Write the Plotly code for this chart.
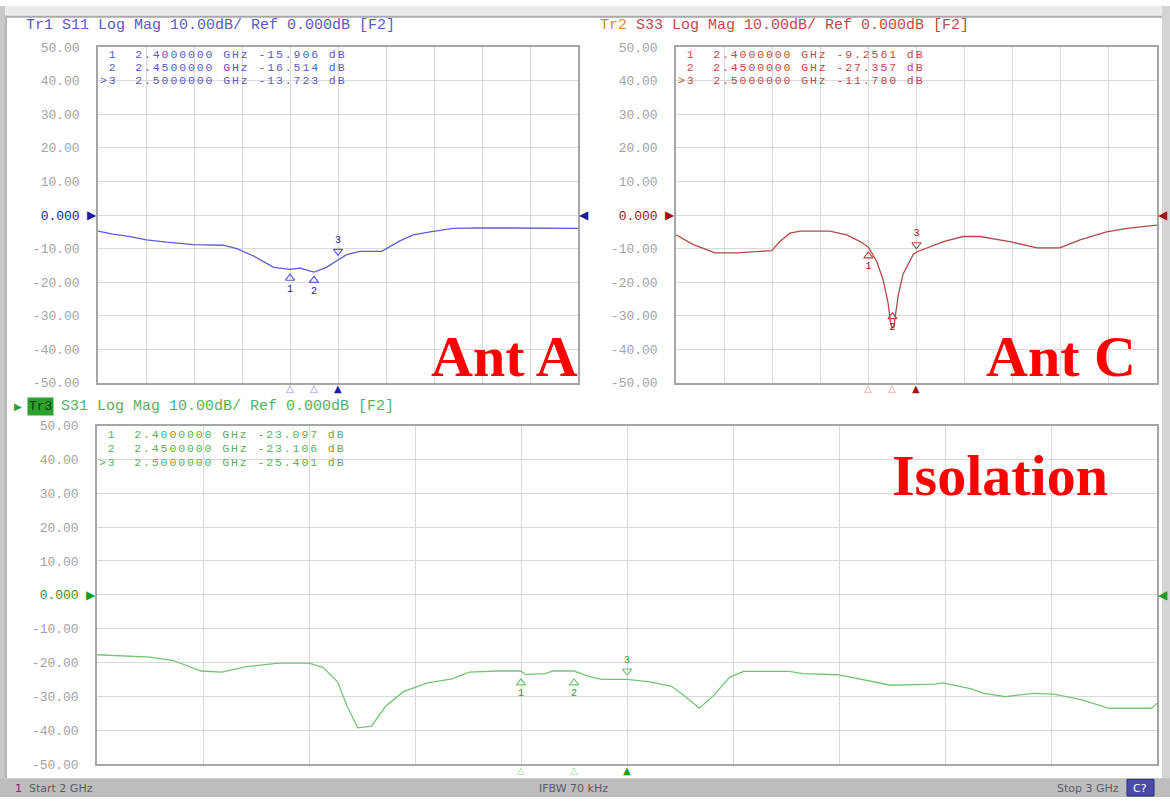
import plotly.graph_objects as go

W, H = 1170, 806

# ---------------- data ----------------
freq_s11 = [2.0, 2.031, 2.067, 2.101, 2.143, 2.199, 2.261, 2.289, 2.324, 2.366, 2.4,
            2.421, 2.45, 2.476, 2.5, 2.518, 2.546, 2.591, 2.629, 2.657, 2.692, 2.74, 2.796, 3.0]
db_s11 = [-4.8, -5.7, -6.4, -7.4, -8.1, -8.8, -9.0, -10.0, -12.2, -15.6, -16.2,
          -15.8, -17.0, -15.6, -13.4, -11.8, -10.8, -10.8, -7.7, -5.9, -5.0, -4.0, -3.8, -4.0]

freq_s33 = [2.0, 2.036, 2.081, 2.126, 2.199, 2.216, 2.237, 2.258, 2.32, 2.355, 2.383, 2.4,
            2.417, 2.431, 2.441, 2.446, 2.449, 2.453, 2.456, 2.462, 2.472, 2.493, 2.5, 2.521,
            2.556, 2.597, 2.632, 2.694, 2.75, 2.798, 2.84, 2.895, 2.937, 3.0]
db_s33 = [-5.9, -8.8, -11.3, -11.3, -10.6, -7.9, -5.4, -4.8, -4.8, -5.9, -7.9, -9.6,
          -13.7, -19.5, -26.3, -32.0, -33.5, -33.5, -30.0, -24.0, -17.6, -11.8, -11.0, -9.8,
          -7.9, -6.4, -6.4, -7.9, -9.8, -9.8, -7.4, -5.0, -4.0, -3.0]

freq_s31 = [2.0, 2.05, 2.072, 2.098, 2.118, 2.141, 2.171, 2.2, 2.213, 2.227, 2.236, 2.246,
            2.259, 2.272, 2.289, 2.312, 2.335, 2.351, 2.378, 2.4, 2.404, 2.423, 2.43, 2.45,
            2.463, 2.476, 2.5, 2.522, 2.542, 2.555, 2.568, 2.581, 2.597, 2.61, 2.653, 2.666,
            2.699, 2.719, 2.749, 2.791, 2.798, 2.824, 2.837, 2.857, 2.883, 2.903, 2.929,
            2.955, 2.995, 3.0]
db_s31 = [-17.7, -18.4, -19.4, -22.5, -22.8, -21.2, -20.2, -20.2, -21.4, -25.7, -33.0, -39.3,
          -38.8, -33.0, -28.6, -26.0, -24.8, -22.8, -22.5, -22.5, -23.5, -23.3, -22.5, -22.5,
          -24.0, -25.0, -25.0, -25.7, -27.0, -30.0, -33.5, -30.0, -24.3, -22.6, -22.6, -23.3,
          -23.6, -24.8, -26.7, -26.4, -26.0, -27.7, -29.1, -30.1, -29.1, -29.3, -31.0,
          -33.5, -33.5, -32.0]

marker_freq = [2.4, 2.45, 2.5]
s11_marker_db = [-15.906, -16.514, -13.723]
s33_marker_db = [-9.2561, -27.357, -11.780]
s31_marker_db = [-23.097, -23.106, -25.401]

ytick_vals = [-50, -40, -30, -20, -10, 0, 10, 20, 30, 40, 50]
ytick_labels = ["-50.00", "-40.00", "-30.00", "-20.00", "-10.00", "0.000",
                "10.00", "20.00", "30.00", "40.00", "50.00"]

# ---------------- style ----------------
MONO = "Liberation Mono"
GRID = "#d9d9d9"
FRAME = "#a6a6a6"
TICK = "#a3a3a3"


def px_x(p):
    return p / W


def px_y(p):
    return 1 - p / H


panels = [
    dict(name="S11", xa="x", ya="y", xd=[98, 578], yd=[42, 384], ro=[7, 13.5],
         freq=freq_s11, db=db_s11, mdb=s11_marker_db,
         line="#5d5dd5", dark="#1c1ca0", light="#9090e2", text="#5a5ac4",
         below=[True, True, False]),
    dict(name="S33", xa="x2", ya="y2", xd=[676, 1157], yd=[42, 384], ro=[7, 13.5],
         freq=freq_s33, db=db_s33, mdb=s33_marker_db,
         line="#b4484a", dark="#a01515", light="#e29494", text="#c04a4a",
         below=[True, True, False]),
    dict(name="S31", xa="x3", ya="y3", xd=[97, 1157], yd=[427.5, 772.5], ro=[9.5, 14],
         freq=freq_s31, db=db_s31, mdb=s31_marker_db,
         line="#74c474", dark="#1e9e1e", light="#92d892", text="#5cb05c",
         below=[True, True, False]),
]

fig = go.Figure()
layout = dict(width=W, height=H, margin=dict(l=0, r=0, t=0, b=0),
              paper_bgcolor="white", plot_bgcolor="white", showlegend=False)

annotations = []
shapes = []

for i, p in enumerate(panels):
    suffix = "" if i == 0 else str(i + 1)
    hpx = p["yd"][1] - p["yd"][0]
    db_per_px = 100.0 / hpx

    layout["xaxis" + suffix] = dict(
        domain=[px_x(p["xd"][0]), px_x(p["xd"][1])], anchor=p["ya"],
        range=[2, 3], tick0=2, dtick=0.1, showticklabels=False, ticks="",
        showgrid=True, gridcolor=GRID, gridwidth=1, zeroline=False,
        showline=True, mirror=True, linecolor=FRAME, linewidth=1.5, fixedrange=True)
    layout["yaxis" + suffix] = dict(
        domain=[px_y(p["yd"][1]), px_y(p["yd"][0])], anchor=p["xa"],
        range=[-50, 50], tickmode="array", tickvals=ytick_vals,
        ticktext=[f'<span style="color:{p["dark"]}">{t}</span>' if v == 0 else t
                  for v, t in zip(ytick_vals, ytick_labels)],
        ticks="", ticklabelstandoff=14,
        tickfont=dict(family=MONO, size=13, color=TICK),
        showgrid=True, gridcolor=GRID, gridwidth=1, zeroline=False,
        showline=True, mirror=True, linecolor=FRAME, linewidth=1.5, fixedrange=True)

    # trace
    fig.add_trace(go.Scatter(x=p["freq"], y=p["db"], mode="lines",
                             line=dict(color=p["line"], width=1.3),
                             xaxis=p["xa"], yaxis=p["ya"], hoverinfo="skip"))

    # reference level triangles at both edges
    annotations.append(dict(x=2, y=0, xref=p["xa"], yref=p["ya"], xanchor="right",
                            yanchor="middle", showarrow=False, text="\u25B6", xshift=1,
                            font=dict(family="DejaVu Sans", size=12, color=p["dark"])))
    annotations.append(dict(x=3, y=0, xref=p["xa"], yref=p["ya"], xanchor="left",
                            yanchor="middle", showarrow=False, text="\u25C0", xshift=-1,
                            font=dict(family="DejaVu Sans", size=12, color=p["dark"])))

    # marker position indicators below the grid
    for k, f in enumerate(marker_freq):
        annotations.append(dict(
            x=f, y=px_y(p["yd"][1] + 6), xref=p["xa"], yref="paper",
            xanchor="center", yanchor="middle", showarrow=False,
            text="\u25B2" if k == 2 else "\u25B3", borderpad=0,
            font=dict(family="DejaVu Sans", size=10,
                      color=p["dark"] if k == 2 else p["light"])))

    # markers on the trace
    for k, (f, v) in enumerate(zip(marker_freq, p["mdb"])):
        if p["below"][k]:
            sym, yy, tp = "triangle-up-open", v - 10 * db_per_px, "bottom center"
        else:
            sym, yy, tp = "triangle-down-open", v + 10 * db_per_px, "top center"
        fig.add_trace(go.Scatter(
            x=[f], y=[yy], mode="markers+text", text=[str(k + 1)], textposition=tp,
            textfont=dict(family=MONO, size=10, color=p["dark"]),
            marker=dict(symbol=sym, size=8, color=p["line"], line=dict(width=1.2)),
            xaxis=p["xa"], yaxis=p["ya"], cliponaxis=False, hoverinfo="skip"))

    # marker readout table (one annotation per line for tight spacing)
    for k, (f, v) in enumerate(zip(marker_freq, p["mdb"])):
        vs = f"{v:.4f}" if abs(v) < 10 else f"{v:.3f}"
        prefix = ">" if k == 2 else "\u00a0"
        line = f"{prefix}{k + 1}\u00a0\u00a0{f:.7f}\u00a0GHz\u00a0{vs}\u00a0dB"
        annotations.append(dict(
            x=px_x(p["xd"][0] + 1), y=px_y(p["yd"][0] + p["ro"][0] + p["ro"][1] * k),
            xref="paper", yref="paper", xanchor="left", yanchor="middle",
            align="left", showarrow=False, borderpad=0,
            text=f'<span style="letter-spacing:1.9px">{line}</span>',
            font=dict(family=MONO, size=11.5, color=p["text"])))

# trace header lines
annotations.append(dict(x=px_x(24), y=px_y(20), xref="paper", yref="paper",
                        xanchor="left", yanchor="middle", showarrow=False,
                        text="Tr1 S11 Log Mag 10.00dB/ Ref 0.000dB [F2]",
                        font=dict(family=MONO, size=15, color=panels[0]["text"])))
annotations.append(dict(x=px_x(598), y=px_y(20), xref="paper", yref="paper",
                        xanchor="left", yanchor="middle", showarrow=False,
                        text='<span style="color:#d88a3a">Tr2</span> S33 Log Mag 10.00dB/ Ref 0.000dB [F2]',
                        font=dict(family=MONO, size=15, color=panels[1]["text"])))
annotations.append(dict(x=px_x(27), y=px_y(408), xref="paper", yref="paper",
                        xanchor="left", yanchor="middle", showarrow=False,
                        text="Tr3", bgcolor="#2ea02e",
                        font=dict(family=MONO, size=13, color="#0d3d0d"), borderpad=1))
annotations.append(dict(x=px_x(60), y=px_y(408), xref="paper", yref="paper",
                        xanchor="left", yanchor="middle", showarrow=False, borderpad=0,
                        text="S31 Log Mag 10.00dB/ Ref 0.000dB [F2]",
                        font=dict(family=MONO, size=15, color=panels[2]["text"])))
annotations.append(dict(x=px_x(18), y=px_y(408), xref="paper", yref="paper",
                        xanchor="center", yanchor="middle", showarrow=False,
                        text="\u25B6", font=dict(family="DejaVu Sans", size=10, color="#2ea02e")))

# big labels
for txt, cx, cy in [("Ant A", 504, 357), ("Ant C", 1061, 357), ("Isolation", 1000, 478)]:
    annotations.append(dict(x=px_x(cx), y=px_y(cy), xref="paper", yref="paper",
                            xanchor="center", yanchor="middle", showarrow=False,
                            text=f"<b>{txt}</b>",
                            font=dict(family="Liberation Serif", size=58, color="#ff0000")))

# status bar text
annotations.append(dict(x=px_x(13), y=px_y(797), xref="paper", yref="paper",
                        xanchor="left", yanchor="middle", showarrow=False,
                        text='<span style="color:#6a2a8a">1</span>\u00a0 Start 2 GHz',
                        font=dict(family="DejaVu Sans", size=11, color="#5a5a6a")))
annotations.append(dict(x=px_x(573), y=px_y(797), xref="paper", yref="paper",
                        xanchor="center", yanchor="middle", showarrow=False,
                        text="IFBW 70 kHz",
                        font=dict(family="DejaVu Sans", size=11, color="#5a5a6a")))
annotations.append(dict(x=px_x(1121), y=px_y(797), xref="paper", yref="paper",
                        xanchor="right", yanchor="middle", showarrow=False,
                        text="Stop 3 GHz",
                        font=dict(family="DejaVu Sans", size=11, color="#5a5a6a")))
annotations.append(dict(x=px_x(1140), y=px_y(797), xref="paper", yref="paper",
                        xanchor="center", yanchor="middle", showarrow=False,
                        text="C?", font=dict(family="DejaVu Sans", size=11, color="white")))


# window frame / status bar decorations
def rect(x0, y0, x1, y1, fill):
    shapes.append(dict(type="rect", xref="paper", yref="paper",
                       x0=px_x(x0), x1=px_x(x1), y0=px_y(y1), y1=px_y(y0),
                       fillcolor=fill, line=dict(width=0), layer="below"))


rect(0, 0, W, 10, "#ebebeb")
rect(0, 0, 5, H, "#c9c9c9")
rect(1162, 0, W, H, "#d4d4d4")
rect(5, 10, 1162, 12, "#a9a9a9")
rect(5, 10, 7, 787, "#b5b5b5")
rect(0, 787, W, H, "#bdbdbd")
shapes.append(dict(type="rect", xref="paper", yref="paper",
                   x0=px_x(1127), x1=px_x(1154), y0=px_y(805), y1=px_y(788),
                   fillcolor="#4a4aa8", line=dict(width=1, color="#2a2a80"), layer="above"))

layout["annotations"] = annotations
layout["shapes"] = shapes
fig.update_layout(**layout)

fig.write_html("out.html", config={"displayModeBar": False},
               post_script="document.body.style.margin='0';document.body.style.overflow='hidden';")
